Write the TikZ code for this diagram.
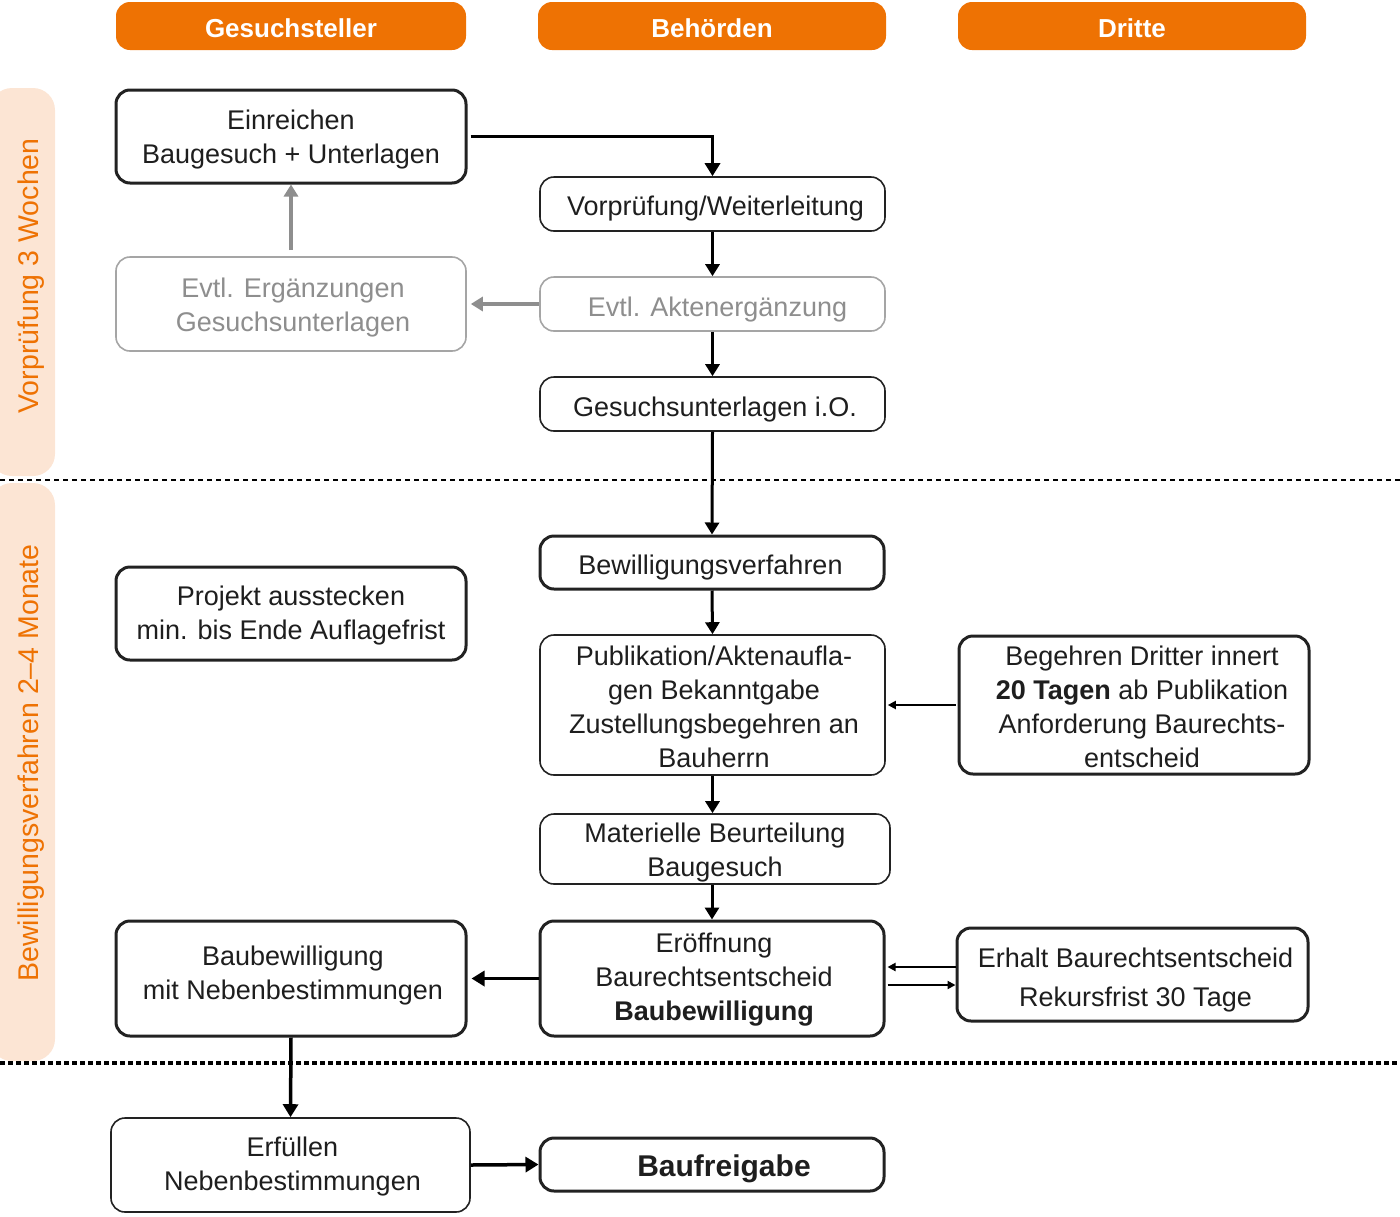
\documentclass[tikz,border=0pt]{standalone}
\usepackage{fontspec}
\setmainfont{Liberation Sans}
\usetikzlibrary{arrows.meta}
\definecolor{org}{HTML}{EE7203}
\definecolor{band}{HTML}{FCE5D4}
\definecolor{txt}{HTML}{1E1E1E}
\definecolor{bd}{HTML}{222222}
\definecolor{gr}{HTML}{8E8E8E}
\begin{document}
\begin{tikzpicture}[x=1pt,y=-1pt,
  box/.style={draw=bd, line width=1.6pt, rounded corners=14pt, inner sep=0pt, fill=white},
  thk/.style={box, line width=3pt},
  greybox/.style={box, draw=gr!80},
  tx/.style={align=center, inner sep=0pt, text=txt, font=\fontsize{27}{34}\selectfont},
  gtx/.style={tx, text=gr},
  head/.style={fill=org, rounded corners=14pt, text=white, inner sep=0pt, minimum height=48pt, font=\bfseries\fontsize{26}{30}\selectfont, execute at begin node=\rule{0pt}{24pt}},
  sidetxt/.style={rotate=90, text=org, inner sep=0pt, font=\fontsize{28.5}{32}\selectfont},
  conn/.style={line width=3.5pt, draw=black, -{Triangle[length=13pt,width=15pt]}},
  connm/.style={line width=3pt, draw=black, -{Triangle[length=12pt,width=14pt]}},
  conng/.style={line width=3.5pt, draw=gr, -{Triangle[length=12pt,width=14pt]}},
  thin/.style={line width=2pt, draw=black, -{Triangle[length=8pt,width=8pt]}}
]
\useasboundingbox (0,0) rectangle (1400,1216);

% side bands
\fill[band, rounded corners=22pt] (-10,88) rectangle (55,476);
\fill[band, rounded corners=22pt] (-10,483) rectangle (55,1061);
\node[sidetxt] (s1) at (31,276) {Vorprüfung 3 Wochen};
\node[sidetxt] (s2) at (31,763) {Bewilligungsverfahren 2–4 Monate};

% separators
\draw[line width=2pt, dash pattern=on 5pt off 4pt] (0,480) -- (1400,480);
\draw[line width=3.5pt, dash pattern=on 4.5pt off 3.5pt] (0,1063) -- (1400,1063);

% headers
\node[head, minimum width=350pt] (h1) at (291,26) {Gesuchsteller};
\node[head, minimum width=348pt] (h2) at (712,26) {Behörden};
\node[head, minimum width=348pt] (h3) at (1132,26) {Dritte};

% boxes
\node[thk, minimum width=350pt, minimum height=93pt] (n1) at (291,136.5) {};
\node[box, minimum width=345pt, minimum height=54pt] (n2) at (712.5,204) {};
\node[greybox, minimum width=350pt, minimum height=94pt] (n3) at (291,304) {};
\node[greybox, minimum width=345pt, minimum height=54pt] (n4) at (712.5,304) {};
\node[box, minimum width=345pt, minimum height=54pt] (n5) at (712.5,404) {};
\node[thk, minimum width=344pt, minimum height=53pt] (n6) at (712,562.5) {};
\node[thk, minimum width=350pt, minimum height=93pt] (n7) at (291,613.5) {};
\node[box, minimum width=345pt, minimum height=140pt] (n8) at (712.5,705) {};
\node[thk, minimum width=350pt, minimum height=138pt] (n9) at (1134,705) {};
\node[box, minimum width=350pt, minimum height=70pt] (n10) at (715,849) {};
\node[thk, minimum width=344pt, minimum height=115pt] (n11) at (712,978.5) {};
\node[thk, minimum width=350pt, minimum height=115pt] (n12) at (291,978.5) {};
\node[thk, minimum width=351pt, minimum height=93pt] (n13) at (1132.5,974.5) {};
\node[box, minimum width=359pt, minimum height=94pt] (n14) at (290.5,1165) {};
\node[thk, minimum width=344pt, minimum height=53pt] (n15) at (712,1164.5) {};

% texts
\node[tx] (t1) at ([yshift=-3pt]n1.center) {Einreichen\\Baugesuch + Unterlagen};
\node[tx] (t2) at ([xshift=3pt,yshift=-5pt]n2.center) {Vorprüfung/Weiterleitung};
\node[gtx] (t3) at ([xshift=2pt,yshift=-4pt]n3.center) {Evtl. Ergänzungen\\Gesuchsunterlagen};
\node[gtx] (t4) at ([xshift=5pt,yshift=-5.5pt]n4.center) {Evtl. Aktenergänzung};
\node[tx] (t5) at ([xshift=2.5pt,yshift=-5.5pt]n5.center) {Gesuchsunterlagen i.O.};
\node[tx] (t6) at ([xshift=-1.5pt,yshift=-5pt]n6.center) {Bewilligungsverfahren};
\node[tx] (t7) at ([yshift=-2pt]n7.center) {Projekt ausstecken\\min. bis Ende Auflagefrist};
\node[tx] (t8) at ([xshift=1.5pt,yshift=-2pt]n8.center) {Publikation/Aktenaufla-\\gen Bekanntgabe\\Zustellungsbegehren an\\Bauherrn};
\node[tx] (t9) at ([xshift=8pt,yshift=-2pt]n9.center) {Begehren Dritter innert\\\textbf{20 Tagen} ab Publikation\\Anforderung Baurechts-\\entscheid};
\node[tx] (t10) at ([yshift=-4pt]n10.center) {Materielle Beurteilung\\Baugesuch};
\node[tx] (t11) at ([xshift=2pt,yshift=-1pt]n11.center) {Eröffnung\\Baurechtsentscheid\\\textbf{Baubewilligung}};
\node[tx] (t12) at ([xshift=2pt,yshift=3pt]n12.center) {Baubewilligung\\mit Nebenbestimmungen};
\node[tx, font=\fontsize{27}{39}\selectfont] (t13) at ([xshift=3pt,yshift=-6pt]n13.center) {Erhalt Baurechtsentscheid\\Rekursfrist 30 Tage};
\node[tx] (t14) at ([xshift=2pt,yshift=-2pt]n14.center) {Erfüllen\\Nebenbestimmungen};
\node[tx, font=\bfseries\fontsize{30}{34}\selectfont] (t15) at ([xshift=12pt,yshift=-4pt]n15.center) {Baufreigabe};

% connectors
\draw[conn] ([xshift=3pt]n1.east) -| (n2.north);
\draw[connm] (n2.south) -- (n4.north);
\draw[connm] (n4.south) -- (n5.north);
\draw[conng] (n4.west) -- ([xshift=4pt]n3.east);
\draw[conng] ([yshift=6pt]n3.north) -- (n1.south);
\draw[connm] (n5.south) -- (n6.north);
\draw[connm] (n6.south) -- (n8.north);
\draw[connm] (n8.south) -- (n8.south |- n10.north);
\draw[connm] (n10.south -| n11.north) -- (n11.north);
\draw[thin] ([xshift=-2pt]n9.west) -- ([xshift=2pt]n8.east);
\coordinate (e1) at ([yshift=7.5pt]n13.west);
\coordinate (e2) at ([yshift=-10.5pt]n13.west);
\draw[thin] (e1) -- ([xshift=2pt]e1 -| n11.east);
\draw[thin] ([xshift=2pt]e2 -| n11.east) -- (e2);
\draw[conn] (n11.west) -- ([xshift=4pt]n12.east);
\draw[conn] (n12.south) -- (n14.north);
\draw[conn] (n14.east) -- (n15.west);
\end{tikzpicture}
\end{document}
